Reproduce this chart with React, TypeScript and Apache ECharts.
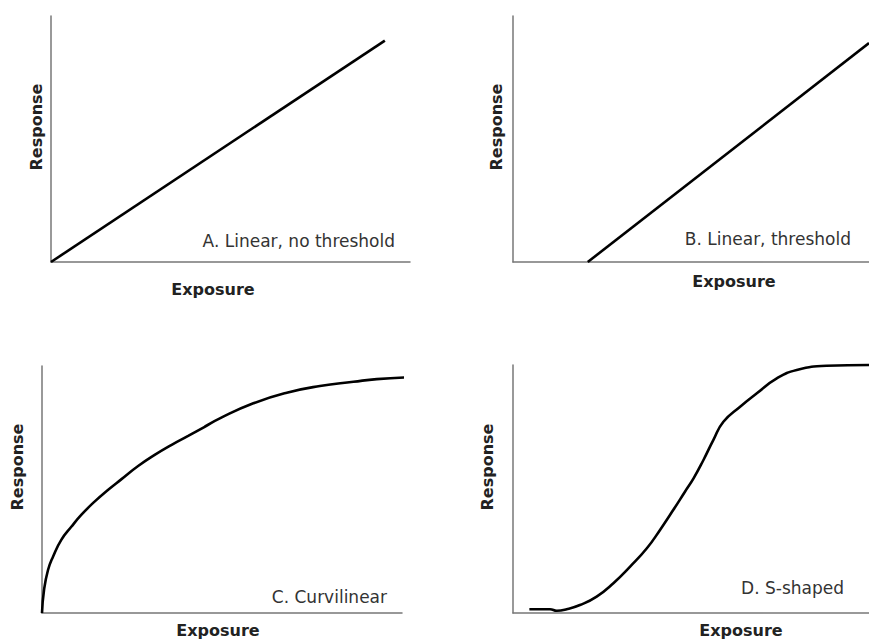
import React, { useEffect, useRef } from "react";
import * as echarts from "echarts";

// Panel A: linear, no threshold
const linearNoThresholdX = [0, 93];
const linearNoThresholdY = [0, 90];
// Panel B: linear, threshold
const linearThresholdX = [21, 100];
const linearThresholdY = [0, 89];
// Panel C: curvilinear
const curvilinearX = [0, 0.56, 1.67, 3.06, 5.36, 8.14, 10.9, 14.6, 18.3, 22.0, 26.7, 31.3, 35.9, 40.6, 45.2, 49.4, 58.7, 68.0, 77.2, 86.5, 93.0, 102.2];
const curvilinearY = [0, 9.3, 17.4, 22.8, 29.6, 34.9, 39.7, 45.1, 49.8, 54.1, 59.5, 64.0, 68.0, 71.7, 75.4, 78.8, 84.9, 89.2, 91.9, 93.6, 94.7, 95.4];
// Panel D: S-shaped
const sShapedX = [4.6, 10.4, 12.3, 15.1, 18.8, 23.5, 28.2, 32.9, 37.6, 41.3, 45.0, 48.3, 50.8, 53.5, 56.3, 59.1, 63.8, 68.5, 74.1, 79.7, 88.1, 100];
const sShapedY = [1.5, 1.5, 0.9, 1.5, 3.2, 6.6, 12.0, 18.7, 26.1, 33.5, 41.5, 48.9, 54.5, 61.7, 69.8, 77.1, 83.2, 88.6, 94.6, 98.0, 99.7, 100];

const panelLabels = ["A. Linear, no threshold", "B. Linear, threshold", "C. Curvilinear", "D. S-shaped"];
const xAxisTitle = "Exposure";
const yAxisTitle = "Response";

const zip = (xs: number[], ys: number[]) => xs.map((x, i) => [x, ys[i]]);

export default function App() {
  const ref = useRef<HTMLDivElement>(null);
  useEffect(() => {
    if (!ref.current) return;
    const chart = echarts.init(ref.current, null, { renderer: "svg" });
    const grids = [
      { left: 51, top: 16, width: 359, height: 246 },
      { left: 513, top: 16, width: 356, height: 246 },
      { left: 42, top: 366, width: 360, height: 247 },
      { left: 513, top: 365, width: 356, height: 248 },
    ];
    const axisLine = { show: true, lineStyle: { color: "#777", width: 1.5 } };
    const mkAxis = (i: number) => ({
      type: "value",
      gridIndex: i,
      min: 0,
      max: 100,
      axisLine,
      axisTick: { show: false },
      axisLabel: { show: false },
      splitLine: { show: false },
    });
    const seriesData = [
      zip(linearNoThresholdX, linearNoThresholdY),
      zip(linearThresholdX, linearThresholdY),
      zip(curvilinearX, curvilinearY),
      zip(sShapedX, sShapedY),
    ];
    const titleFont = { fontFamily: "DejaVu Sans", fontWeight: "bold", fontSize: 16, fill: "#222" };
    const labelFont = { fontFamily: "DejaVu Sans", fontWeight: "normal", fontSize: 17, fill: "#333" };
    const xTitlePos = [[213, 289], [734, 281], [218, 630], [741, 630]];
    const yTitlePos = [[36, 127], [496, 127], [17, 467], [487, 467]];
    const labelPos = [[395, 241], [851, 239], [387, 597], [844, 588]];
    const graphic: any[] = [];
    for (let i = 0; i < 4; i++) {
      graphic.push({
        type: "text",
        x: xTitlePos[i][0],
        y: xTitlePos[i][1],
        style: { text: xAxisTitle, ...titleFont, align: "center", verticalAlign: "middle" },
      });
      graphic.push({
        type: "text",
        x: yTitlePos[i][0],
        y: yTitlePos[i][1],
        rotation: Math.PI / 2,
        style: { text: yAxisTitle, ...titleFont, align: "center", verticalAlign: "middle" },
      });
      graphic.push({
        type: "text",
        x: labelPos[i][0],
        y: labelPos[i][1],
        style: { text: panelLabels[i], ...labelFont, align: "right", verticalAlign: "middle" },
      });
    }
    chart.setOption({
      animation: false,
      backgroundColor: "#fff",
      grid: grids,
      xAxis: [0, 1, 2, 3].map(mkAxis),
      yAxis: [0, 1, 2, 3].map(mkAxis),
      series: seriesData.map((d, i) => ({
        type: "line",
        xAxisIndex: i,
        yAxisIndex: i,
        data: d,
        smooth: i >= 2 ? 0.5 : false,
        showSymbol: false,
        clip: false,
        lineStyle: { color: "#000", width: 2.6 },
      })),
      graphic,
    });
    return () => chart.dispose();
  }, []);
  return (
    <div
      ref={ref}
      style={{ position: "absolute", left: 0, top: 0, width: 869, height: 640 }}
    />
  );
}
